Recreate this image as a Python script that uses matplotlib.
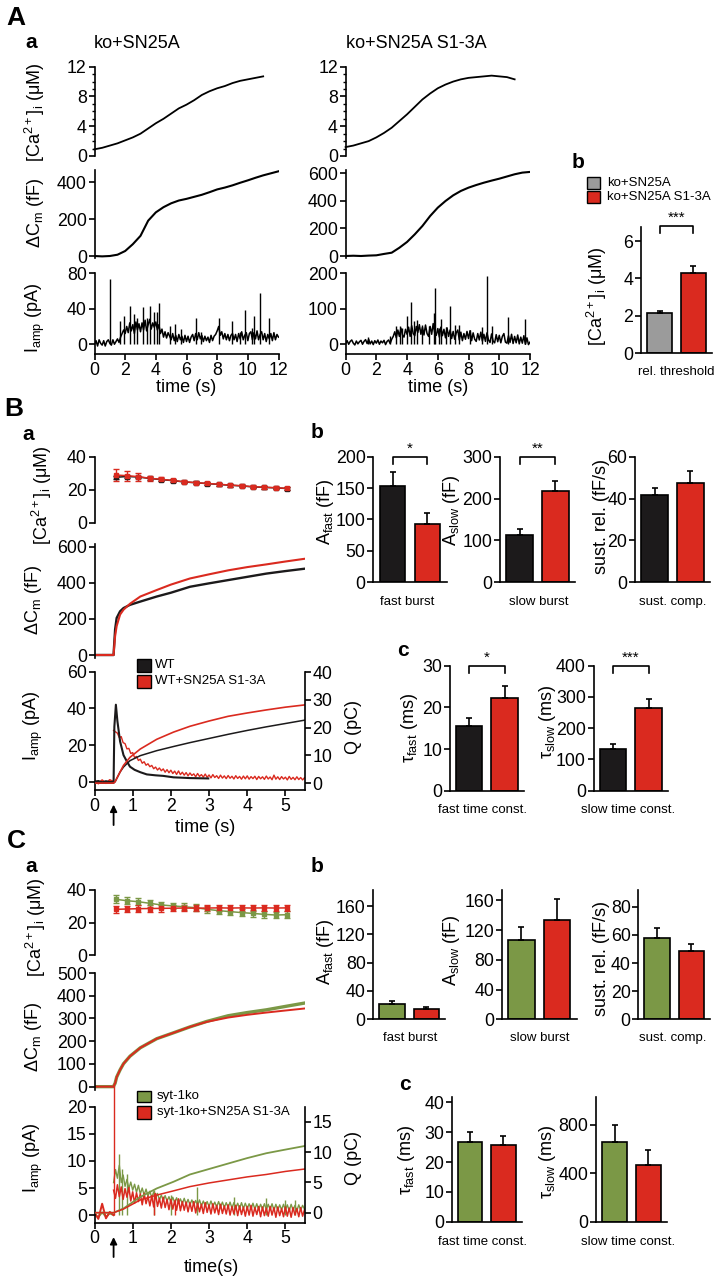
import matplotlib
matplotlib.use('Agg')
import matplotlib.pyplot as plt
import numpy as np
from matplotlib.patches import Rectangle

plt.rcParams['font.family'] = ['Liberation Sans', 'DejaVu Sans']
plt.rcParams['mathtext.fontset'] = 'custom'
plt.rcParams['mathtext.rm'] = 'Liberation Sans'
plt.rcParams['axes.linewidth'] = 1.2

# ---------------- data: panel A ----------------
tA_ca = np.arange(0, 11.01, 0.5)
caA_wt = [0.9, 1.1, 1.4, 1.7, 2.1, 2.5, 3.0, 3.7, 4.4, 5.0, 5.7, 6.4, 6.9, 7.5, 8.2,
          8.7, 9.1, 9.4, 9.8, 10.1, 10.3, 10.5, 10.7]
caA_mut = [1.2, 1.4, 1.7, 2.0, 2.5, 3.1, 3.8, 4.7, 5.6, 6.6, 7.6, 8.4, 9.1, 9.6, 10.0,
           10.3, 10.5, 10.6, 10.7, 10.8, 10.7, 10.6, 10.3]
tA_cm = np.arange(0, 12.01, 0.5)
cmA_wt = [0, -2, 0, 7, 27, 64, 109, 191, 236, 264, 285, 300, 309, 320, 331, 345, 360,
          370, 382, 396, 409, 423, 436, 447, 458]
cmA_mut = [0, 2, 0, 3, 5, 15, 24, 60, 102, 157, 218, 290, 351, 399, 440, 472, 496, 515,
           532, 547, 561, 577, 593, 605, 610]
tA_i = np.arange(0, 12.01, 0.1)
iA_wt = [0, 4, -2, 5, 1, -1, 4, -2, 3, 5,
         1, -1, 5, 0, 3, 6, 2, 8, 12, 16,
         12, 20, 13, 24, 15, 22, 12, 25, 16, 23,
         14, 24, 16, 27, 15, 22, 28, 17, 24, 19,
         25, 16, 22, 12, 17, 8, 14, 7, 13, 9,
         5, 12, 4, 10, 3, 11, 5, 9, 2, 10,
         3, 9, 2, 8, 11, 4, 12, 5, 13, 6,
         10, 3, 9, 4, 8, 2, 10, 4, 9, 11,
         15, 20, 10, 14, 6, 12, 5, 11, 4, 10,
         12, 5, 11, 3, 12, 6, 14, 5, 10, 13,
         4, 12, 14, 5, 13, 6, 15, 5, 11, 14,
         5, 12, 3, 11, 6, 12, 4, 13, 5, 11,
         8]
spkA_wt_t = [1.04, 1.64, 1.94, 2.29, 2.55, 2.76, 3.15, 3.41, 3.63, 3.88, 4.06, 4.23, 4.92,
             5.24, 5.67, 6.65, 6.97, 8.15, 8.97, 9.49, 9.84, 10.27, 10.4, 10.8, 11.4]
spkA_wt_a = [73, 26, 32, 43, 34, 30, 42, 30, 43, 36, 36, 46, 21, 23, 17, 30, 14, 29, 26,
             14, 39, 18, 32, 58, 29]
iA_mut = [2, 10, 0, 8, 12, 3, -2, 9, 1, 7,
          11, 0, 8, 13, 2, 14, 1, 9, -1, 10,
          3, 12, 0, 9, 4, 11, -1, 8, 12, 2,
          14, 22, 35, 18, 40, 22, 45, 26, 20, 42,
          28, 48, 22, 52, 30, 24, 50, 33, 55, 28,
          48, 26, 54, 30, 22, 50, 28, 58, 32, 25,
          44, 20, 48, 24, 42, 18, 46, 22, 40, 16,
          36, 14, 32, 40, 12, 34, 10, 30, 14, 36,
          16, 38, 10, 32, 14, 8, 30, 12, 34, 9,
          28, 8, 32, 12, 5, 29, 9, 4, 27, 7,
          25, 4, 22, 30, 6, 3, 24, 5, 28, 2,
          22, 4, 26, 1, 20, 3, 24, 0, 18, -1,
          6]
spkA_mut_t = [1.47, 2.92, 3.28, 3.52, 3.67, 3.99, 4.25, 4.47, 4.64, 4.97, 5.4, 5.73, 5.8,
              6.05, 6.2, 6.55, 6.8, 7.12, 7.4, 8.1, 8.86, 9.19, 9.55, 10.6, 11.7]
spkA_mut_a = [21, 24, 50, 52, 47, 79, 118, 65, 68, 55, 50, 89, 158, 45, 72, 48, 108, 53,
              55, 41, 48, 192, 50, 76, 70]
thrA = [2.15, 4.3]
thrA_err = [0.1, 0.35]

# ---------------- data: panel B ----------------
t_err = [0.55, 0.85, 1.15, 1.45, 1.75, 2.05, 2.35, 2.65, 2.95, 3.25, 3.55, 3.85, 4.15,
         4.45, 4.75, 5.05]
caB_wt = [27.5, 28.0, 27.7, 26.8, 26.1, 25.5, 24.7, 24.2, 23.7, 23.2, 22.7, 22.3, 21.7,
          21.4, 21.1, 20.7]
caB_wt_e = [1.0, 1.0, 0.9, 0.8, 0.8, 0.8, 0.8, 0.8, 0.8, 0.8, 0.8, 0.8, 0.8, 0.8, 0.8, 0.8]
caB_mut = [28.9, 28.5, 27.9, 26.9, 26.3, 25.6, 24.8, 24.3, 23.8, 23.3, 22.8, 22.4, 21.8,
           21.5, 21.2, 20.8]
caB_mut_e = [3.5, 3.0, 2.5, 1.5, 1.2, 1.0, 1.0, 1.0, 0.9, 0.9, 0.9, 0.9, 0.8, 0.8, 0.8, 0.8]
tB_cm = [0, 0.5, 0.51, 0.54, 0.58, 0.67, 0.76, 0.93, 1.2, 1.63, 2.0, 2.5, 3.0, 3.5, 4.0,
         4.5, 5.0, 5.5]
cmB_wt = [0, 0, 40, 142, 205, 242, 260, 278, 296, 324, 345, 378, 397, 415, 433, 451, 465, 478]
cmB_mut = [0, 0, 30, 105, 160, 224, 251, 284, 324, 360, 390, 424, 447, 469, 487, 502, 518, 533]
tB_iwt = [0, 0.1, 0.2, 0.3, 0.4, 0.5, 0.52, 0.56, 0.6, 0.67, 0.76, 0.85, 0.93, 1.05, 1.2,
          1.37, 1.6, 1.8, 2.07, 2.3, 2.5, 2.75, 2.98]
iB_wt = [0, 0.4, -0.3, 0.3, -0.2, 0, 30, 42, 33, 22, 14.5, 11, 8.2, 6.5, 5.2, 4, 3.5, 3.2,
         2.4, 2.2, 2, 1.9, 1.8]
t_pre = np.arange(0, 0.51, 0.1)
t_post = np.arange(0.5, 5.501, 0.05)
iB_mut_pre = [0.8, -1.0, 0.9, -0.8, 1.0, 0]
iB_mut_post = [28.0, 27.2, 26.5, 24.1, 24.6, 21.3, 20.8, 17.9, 18.2, 15.4,
               15.9, 13.2, 13.8, 11.6, 12.3, 10.1, 10.9, 9.0, 9.8, 8.2,
               8.9, 7.1, 8.0, 6.4, 7.5, 6.0, 7.0, 5.2, 6.6, 4.9,
               6.3, 4.5, 5.8, 4.0, 5.9, 3.9, 5.2, 3.6, 5.0, 3.2,
               4.8, 3.4, 4.3, 2.7, 4.5, 2.9, 3.9, 2.5, 4.2, 2.4,
               3.7, 2.1, 3.9, 2.3, 3.3, 1.8, 3.6, 2.0, 3.2, 1.7,
               3.4, 1.9, 3.0, 1.5, 3.3, 1.8, 2.9, 1.4, 3.1, 1.6,
               3.2, 1.4, 2.8, 1.7, 3.0, 1.2, 2.9, 1.6, 2.7, 1.3,
               3.1, 1.5, 2.6, 1.1, 3.6, 1.4, 2.7, 1.2, 2.8, 1.5,
               2.5, 1.0, 2.9, 1.3, 2.4, 1.1, 2.7, 1.2, 2.3, 1.0,
               2.2]
tB_q = [0, 0.5, 0.54, 0.67, 0.76, 0.93, 1.2, 1.63, 2.07, 2.5, 3.0, 3.5, 4.0, 4.5, 5.0, 5.5]
qB_wt = [0, 0, 0.5, 4, 5.8, 8.1, 9.9, 11.7, 13.2, 14.6, 16.1, 17.6, 19.0, 20.3, 21.5, 22.7]
qB_mut = [0, 0, 0.5, 4, 6.4, 9.3, 12.3, 15.8, 18.4, 20.5, 22.4, 24.1, 25.3, 26.4, 27.4, 28.2]
afastB = [153, 93];   afastB_err = [22, 17]
aslowB = [114, 218];  aslowB_err = [14, 25]
sustB = [41.8, 47.4]; sustB_err = [3.4, 5.9]
tfastB = [15.5, 22.3]; tfastB_err = [1.9, 2.8]
tslowB = [134, 266];  tslowB_err = [17, 28]

# ---------------- data: panel C ----------------
caC_ko = [34.3, 33.4, 32.8, 31.8, 30.8, 30.2, 29.7, 29.1, 28.1, 27.3, 26.7, 26.1, 25.6,
          25.0, 24.6, 24.8]
caC_ko_e = [2.5, 2.3, 2.2, 2.0, 2.0, 2.0, 2.0, 2.0, 2.0, 2.0, 2.0, 2.0, 2.0, 2.0, 2.0, 2.0]
caC_mut = [28.1, 28.3, 28.5, 28.6, 28.7, 28.8, 28.9, 28.8, 28.9, 29.0, 28.9, 29.0, 28.9,
           29.0, 28.9, 29.0]
caC_mut_e = [2.0] * 16
tC_cm = [0, 0.5, 0.51, 0.54, 0.58, 0.67, 0.76, 0.93, 1.2, 1.63, 2.07, 2.5, 2.94, 3.5, 4.0,
         4.5, 5.0, 5.51]
cmC_ko = [0, 0, 5, 15, 42, 74, 101, 134, 171, 211, 237, 263, 287, 312, 326, 338, 353, 368]
cmC_mut = [0, 0, 5, 15, 42, 74, 101, 134, 171, 211, 237, 263, 285, 304, 316, 326, 335, 344]
iC_ko_pre = [0.2, -0.4, 0.5, -0.3, 0.3, 0]
iC_ko_post = [6.0, 8.4, 6.8, 9.2, 6.0, 7.4, 5.3, 6.6, 4.9, 6.1,
              4.6, 5.7, 4.2, 5.5, 3.9, 5.0, 3.7, 4.8, 3.5, 4.4,
              3.2, 4.3, 3.1, 4.0, 2.8, 3.7, 2.7, 3.6, 2.6, 3.4,
              2.4, 3.3, 2.3, 3.2, 2.2, 3.0, 2.1, 3.1, 2.0, 2.9,
              1.9, 2.8, 1.9, 2.7, 1.8, 2.8, 1.7, 2.6, 1.7, 2.5,
              1.6, 2.6, 1.6, 2.4, 1.5, 2.5, 1.5, 2.4, 1.4, 2.3,
              1.4, 2.4, 1.3, 2.3, 1.3, 2.2, 1.2, 2.3, 1.2, 2.2,
              1.2, 2.1, 1.1, 2.2, 1.1, 2.1, 1.0, 2.0, 1.1, 2.1,
              1.0, 2.0, 1.0, 2.1, 0.9, 2.0, 0.9, 1.9, 1.0, 2.0,
              0.9, 1.9, 0.8, 2.0, 0.9, 1.8, 0.8, 1.9, 0.9, 1.8,
              1.1]
iC_mut_pre = [0.5, -0.7, 2.1, -0.6, 0.6, 0]
iC_mut_post = [4.6, 3.1, 5.6, 3.4, 5.2, 2.9, 4.9, 3.3, 5.1, 2.6,
               4.3, 2.2, 4.1, 2.5, 3.9, 1.9, 4.0, 2.1, 3.5, 1.7,
               3.6, 1.5, 4.0, 1.6, 3.1, 1.3, 3.3, 1.4, 2.9, 1.0,
               2.9, 1.1, 2.6, 0.9, 3.0, 0.8, 2.5, 0.9, 2.4, 0.6,
               2.3, 0.7, 2.5, 0.4, 2.2, 0.6, 2.0, 0.3, 2.3, 0.5,
               1.9, 0.2, 2.1, 0.4, 1.8, 0.1, 2.0, 0.3, 1.7, 0.2,
               1.9, 0.0, 1.6, 0.2, 1.8, -0.1, 1.7, 0.1, 1.5, -0.2,
               1.6, 0.0, 1.8, -0.2, 1.4, 0.1, 1.6, -0.3, 1.5, -0.1,
               1.3, -0.2, 1.6, 0.0, 1.4, -0.4, 1.5, -0.1, 1.2, -0.3,
               1.5, -0.2, 1.3, -0.4, 1.4, 0.0, 1.2, -0.3, 1.4, -0.2,
               1.0]
spkC_ko_t = [0.65, 0.72, 0.85, 1.55, 2.0, 2.68, 3.65, 4.48, 4.98, 5.25]
spkC_ko_a = [11.3, 8.5, 7.5, 4.6, 3.8, 5.2, 3.4, 3.1, 2.8, 2.8]
spkC_mut_t = [0.5, 1.55, 2.1]
spkC_mut_a = [23.8, 4.0, 2.9]
tC_q = [0, 0.5, 0.76, 1.2, 1.63, 2.07, 2.5, 3.0, 3.5, 4.0, 4.5, 5.0, 5.51]
qC_ko = [0, 0, 0.7, 2.6, 4.0, 5.1, 6.3, 7.2, 8.1, 9.0, 9.8, 10.4, 11.0]
qC_mut = [0, 0, 0.6, 2.1, 2.9, 3.6, 4.3, 4.9, 5.4, 5.9, 6.3, 6.8, 7.2]
afastC = [21.6, 14.1]; afastC_err = [4.8, 3.8]
aslowC = [107, 133];   aslowC_err = [17, 29]
sustC = [57.8, 48.4];  sustC_err = [7.5, 5.3]
tfastC = [26.7, 25.7]; tfastC_err = [3.5, 3.0]
tslowC = [656, 472];   tslowC_err = [141, 118]

BLACK = '#1c1a1b'
RED = '#da2a1f'
GREEN = '#7b9846'
GRAY = '#9b9b9b'

TICK = 12.8
LBL = 13
SMALL = 9.5

W, H = 716, 1280
fig = plt.figure(figsize=(W / 100, H / 100), dpi=100)


def ax_px(x0, y0, x1, y1):
    ax = fig.add_axes([x0 / W, 1 - y1 / H, (x1 - x0) / W, (y1 - y0) / H])
    ax.patch.set_alpha(0)
    for s in ['top', 'right']:
        ax.spines[s].set_visible(False)
    ax.tick_params(direction='out', length=4, width=1.2, labelsize=TICK, pad=1.5)
    return ax


def no_x(ax):
    ax.spines['bottom'].set_visible(False)
    ax.set_xticks([])


def ftext(x, y, s, **kw):
    kw.setdefault('ha', 'center')
    kw.setdefault('va', 'center')
    fig.text(x / W, 1 - y / H, s, **kw)


def fbox(x0, y0, x1, y1, color):
    fig.add_artist(Rectangle((x0 / W, 1 - y1 / H), (x1 - x0) / W, (y1 - y0) / H,
                             transform=fig.transFigure, facecolor=color,
                             edgecolor='k', lw=1))


def bars(ax, vals, errs, cols, top, ticks):
    ax.bar([0, 1], vals, width=0.74, color=cols, edgecolor='k', linewidth=1.2, zorder=2)
    ax.errorbar([0, 1], vals, yerr=[[0, 0], errs], fmt='none', ecolor='k',
                elinewidth=1.2, capsize=2.5, capthick=1.2, zorder=3)
    ax.set_xlim(-0.55, 1.55)
    ax.set_ylim(0, top)
    ax.set_yticks(ticks)
    ax.set_xticks([])


def bracket(ax, stars, top, drop=0.06):
    ax.plot([0, 0, 1, 1], [top * (1 - drop), top, top, top * (1 - drop)], color='k',
            lw=1.2, clip_on=False)
    ax.text(0.5, top * 1.005, stars, ha='center', va='bottom', fontsize=11)


CA_LBL = r'[Ca$\mathregular{^{2+}}$]$\mathregular{_i}$ (μM)'
CM_LBL = r'ΔC$\mathregular{_m}$ (fF)'
I_LBL = r'I$\mathregular{_{amp}}$ (pA)'

# ================= Panel A =================
ftext(16, 18, 'A', fontsize=19, fontweight='bold')
ftext(31, 43, 'a', fontsize=15, fontweight='bold')
ftext(94, 43, 'ko+SN25A', fontsize=13, ha='left')
ftext(346, 43, 'ko+SN25A S1-3A', fontsize=13, ha='left')

for x0, x1, ca, cm, cmlim, cmticks, ia, st, sa, ilim, iticks in [
        (94.5, 278.5, caA_wt, cmA_wt, (-10.8, 465), [0, 200, 400], iA_wt, spkA_wt_t,
         spkA_wt_a, (-11.3, 80), [0, 40, 80]),
        (345.6, 530, caA_mut, cmA_mut, (-14.5, 624), [0, 200, 400, 600], iA_mut,
         spkA_mut_t, spkA_mut_a, (-28.2, 200), [0, 100, 200])]:
    a1 = ax_px(x0, 66.7, x1, 156)
    a1.plot(tA_ca, ca, color='k', lw=1.3, clip_on=False)
    a1.set_xlim(0, 12)
    a1.set_ylim(0, 12)
    a1.set_yticks([0, 4, 8, 12])
    a1.set_yticks(np.arange(0, 13, 1), minor=True)
    a1.tick_params(which='minor', direction='out', length=2.5, width=1)
    no_x(a1)
    a2 = ax_px(x0, 170, x1, 258)
    a2.plot(tA_cm, cm, color='k', lw=1.5)
    a2.set_xlim(0, 12)
    a2.set_ylim(*cmlim)
    a2.set_yticks(cmticks)
    no_x(a2)
    a3 = ax_px(x0, 273, x1, 354.3)
    a3.plot(tA_i, ia, color='k', lw=1.1)
    a3.vlines(st, 0, sa, color='k', lw=1.0)
    a3.set_xlim(0, 12)
    a3.set_ylim(*ilim)
    a3.set_yticks(iticks)
    a3.set_xticks(np.arange(0, 13, 2))
    ftext((x0 + x1) / 2, 388, 'time (s)', fontsize=13)

ftext(35, 112, CA_LBL, fontsize=LBL, rotation=90)
ftext(35, 213, CM_LBL, fontsize=LBL, rotation=90)
ftext(35, 318, I_LBL, fontsize=LBL, rotation=90)

ftext(578, 162, 'b', fontsize=15, fontweight='bold')
fbox(587, 177, 600, 188.5, GRAY)
fbox(587, 190.5, 600, 203, RED)
ftext(607, 182.5, 'ko+SN25A', fontsize=SMALL, ha='left')
ftext(607, 196.7, 'ko+SN25A S1-3A', fontsize=SMALL, ha='left')
axAb = ax_px(641, 227, 712, 353)
bars(axAb, thrA, thrA_err, [GRAY, RED], 6.75, [0, 2, 4, 6])
axAb.plot([0, 0, 1, 1], [6.42, 6.8, 6.8, 6.42], color='k', lw=1.2, clip_on=False)
axAb.text(0.5, 6.85, '***', ha='center', va='bottom', fontsize=11)
ftext(597, 296, CA_LBL, fontsize=LBL, rotation=90)
ftext(676, 372, 'rel. threshold', fontsize=SMALL)

# ================= Panel B =================
ftext(14, 409, 'B', fontsize=19, fontweight='bold')
ftext(28, 435, 'a', fontsize=15, fontweight='bold')


def trace_panels(y_ca, y_cm, y_i, cmlim, cmticks, ilim, iticks, qlim, qticks):
    a1 = ax_px(94.5, y_ca[0], 304.5, y_ca[1])
    a1.set_xlim(0, 5.5)
    a1.set_ylim(0, 40)
    a1.set_yticks([0, 20, 40])
    no_x(a1)
    a2 = ax_px(94.5, y_cm[0], 304.5, y_cm[1])
    a2.set_xlim(0, 5.5)
    a2.set_ylim(*cmlim)
    a2.set_yticks(cmticks)
    no_x(a2)
    a3 = ax_px(94.5, y_i[0], 304.5, y_i[1])
    a3.set_xlim(0, 5.5)
    a3.set_ylim(*ilim)
    a3.set_yticks(iticks)
    a3.set_xticks([0, 1, 2, 3, 4, 5])
    a4 = a3.twinx()
    a4.set_ylim(*qlim)
    a4.set_yticks(qticks)
    for s in ['top', 'left', 'bottom']:
        a4.spines[s].set_visible(False)
    a4.tick_params(direction='out', length=4, width=1.2, labelsize=TICK, pad=1.5)
    a3.annotate('', xy=(0.5, -0.10), xytext=(0.5, -0.32),
                xycoords=a3.get_xaxis_transform(),
                arrowprops=dict(arrowstyle='-|>', color='k', lw=1.3, mutation_scale=10),
                annotation_clip=False)
    return a1, a2, a3, a4


b1, b2, b3, b4 = trace_panels((456.7, 522.7), (544, 658), (671.7, 790),
                              (-16.6, 615), [0, 200, 400, 600], (-4.5, 60),
                              [0, 20, 40, 60], (-2.5, 40.2), [0, 10, 20, 30, 40])
err_kw = dict(fmt='-s', markersize=3.4, capsize=2.4, lw=1.1, elinewidth=1.0, capthick=1.0)
b1.errorbar(t_err, caB_wt, yerr=caB_wt_e, color=BLACK, **err_kw)
b1.errorbar(t_err, caB_mut, yerr=caB_mut_e, color=RED, **err_kw)
b2.plot(tB_cm, cmB_wt, color=BLACK, lw=1.7)
b2.plot(tB_cm, cmB_mut, color=RED, lw=1.5)
b3.plot(t_pre, iB_mut_pre, color=RED, lw=1.3)
b3.plot(tB_iwt, iB_wt, color=BLACK, lw=1.5, zorder=3)
b3.plot(t_post, iB_mut_post, color=RED, lw=1.0, zorder=2)
b4.plot(tB_q, qB_wt, color=BLACK, lw=1.1)
b4.plot(tB_q, qB_mut, color=RED, lw=1.2)
fbox(137, 659, 150.5, 672, BLACK)
fbox(137, 675, 150.5, 688, RED)
ftext(155, 665.5, 'WT', fontsize=SMALL, ha='left')
ftext(155, 681.5, 'WT+SN25A S1-3A', fontsize=SMALL, ha='left')
ftext(205, 828, 'time (s)', fontsize=13)
ftext(42, 495, CA_LBL, fontsize=LBL, rotation=90)
ftext(33, 600, CM_LBL, fontsize=LBL, rotation=90)
ftext(33, 726, I_LBL, fontsize=LBL, rotation=90)
ftext(353, 727, 'Q (pC)', fontsize=LBL, rotation=90)

ftext(317, 433, 'b', fontsize=15, fontweight='bold')
ax = ax_px(373.3, 456.7, 446.7, 582.3)
bars(ax, afastB, afastB_err, [BLACK, RED], 200, [0, 50, 100, 150, 200])
bracket(ax, '*', 200)
ax = ax_px(500, 456.7, 575, 582.3)
bars(ax, aslowB, aslowB_err, [BLACK, RED], 300, [0, 100, 200, 300])
bracket(ax, '**', 300)
ax = ax_px(635, 456.7, 710, 582.3)
bars(ax, sustB, sustB_err, [BLACK, RED], 60, [0, 20, 40, 60])
ftext(325, 512, r'A$\mathregular{_{fast}}$ (fF)', fontsize=LBL, rotation=90)
ftext(452, 510, r'A$\mathregular{_{slow}}$ (fF)', fontsize=LBL, rotation=90)
ftext(601, 517, 'sust. rel. (fF/s)', fontsize=LBL, rotation=90)
ftext(407, 602, 'fast burst', fontsize=SMALL)
ftext(539, 602, 'slow burst', fontsize=SMALL)
ftext(673, 602, 'sust. comp.', fontsize=SMALL)

ftext(403, 650, 'c', fontsize=15, fontweight='bold')
ax = ax_px(449.8, 665.7, 524, 790.7)
bars(ax, tfastB, tfastB_err, [BLACK, RED], 30, [0, 10, 20, 30])
bracket(ax, '*', 30)
ax = ax_px(593.6, 665.7, 668, 790.7)
bars(ax, tslowB, tslowB_err, [BLACK, RED], 400, [0, 100, 200, 300, 400])
bracket(ax, '***', 400)
ftext(410, 728, r'τ$\mathregular{_{fast}}$ (ms)', fontsize=LBL, rotation=90)
ftext(547, 722, r'τ$\mathregular{_{slow}}$ (ms)', fontsize=LBL, rotation=90)
ftext(482, 810, 'fast time const.', fontsize=SMALL)
ftext(628, 810, 'slow time const.', fontsize=SMALL)

# ================= Panel C =================
ftext(16, 841, 'C', fontsize=19, fontweight='bold')
ftext(31, 867, 'a', fontsize=15, fontweight='bold')
c1, c2, c3, c4 = trace_panels((890, 955), (973, 1090), (1106.7, 1222.7),
                              (-14.7, 500), [0, 100, 200, 300, 400, 500], (-1.4, 20),
                              [0, 5, 10, 15, 20], (-1.65, 17.47), [0, 5, 10, 15])
c1.errorbar(t_err, caC_ko, yerr=caC_ko_e, color=GREEN, **err_kw)
c1.errorbar(t_err, caC_mut, yerr=caC_mut_e, color=RED, **err_kw)
c2.plot(tC_cm, cmC_ko, color=GREEN, lw=2.4)
c2.plot(tC_cm, cmC_mut, color=RED, lw=1.4)
c3.plot(t_pre, iC_ko_pre, color=GREEN, lw=1.3)
c3.plot(t_post, iC_ko_post, color=GREEN, lw=1.0)
c3.vlines(spkC_ko_t, 0, spkC_ko_a, color=GREEN, lw=1.0)
c3.plot(t_pre, iC_mut_pre, color=RED, lw=1.4)
c3.plot(t_post, iC_mut_post, color=RED, lw=1.1)
c3.vlines(spkC_mut_t, 0, spkC_mut_a, color=RED, lw=1.0, clip_on=False)
c4.plot(tC_q, qC_ko, color=GREEN, lw=1.3)
c4.plot(tC_q, qC_mut, color=RED, lw=1.1)
fbox(137, 1091, 150.5, 1102, GREEN)
fbox(137, 1106, 150.5, 1118.5, RED)
ftext(157, 1096.5, 'syt-1ko', fontsize=SMALL, ha='left')
ftext(157, 1112, 'syt-1ko+SN25A S1-3A', fontsize=SMALL, ha='left')
ftext(211, 1268, 'time(s)', fontsize=13)
ftext(36, 927, CA_LBL, fontsize=LBL, rotation=90)
ftext(33, 1037, CM_LBL, fontsize=LBL, rotation=90)
ftext(33, 1158, I_LBL, fontsize=LBL, rotation=90)
ftext(353, 1158, 'Q (pC)', fontsize=LBL, rotation=90)

ftext(317, 867, 'b', fontsize=15, fontweight='bold')
ax = ax_px(373.3, 890, 445, 1019.3)
bars(ax, afastC, afastC_err, [GREEN, RED], 182.6, [0, 40, 80, 120, 160])
ax = ax_px(501.7, 890, 576.7, 1019.3)
bars(ax, aslowC, aslowC_err, [GREEN, RED], 174, [0, 40, 80, 120, 160])
ax = ax_px(638.3, 890, 710, 1019.3)
bars(ax, sustC, sustC_err, [GREEN, RED], 92, [0, 20, 40, 60, 80])
ftext(325, 952, r'A$\mathregular{_{fast}}$ (fF)', fontsize=LBL, rotation=90)
ftext(452, 950, r'A$\mathregular{_{slow}}$ (fF)', fontsize=LBL, rotation=90)
ftext(601, 958, 'sust. rel. (fF/s)', fontsize=LBL, rotation=90)
ftext(410, 1038, 'fast burst', fontsize=SMALL)
ftext(540, 1038, 'slow burst', fontsize=SMALL)
ftext(673, 1038, 'sust. comp.', fontsize=SMALL)

ftext(405, 1085, 'c', fontsize=15, fontweight='bold')
ax = ax_px(451.7, 1096.7, 521.7, 1221.7)
bars(ax, tfastC, tfastC_err, [GREEN, RED], 41.9, [0, 10, 20, 30, 40])
ax = ax_px(596, 1096.7, 666.7, 1221.7)
bars(ax, tslowC, tslowC_err, [GREEN, RED], 1034, [0, 400, 800])
ftext(406, 1160, r'τ$\mathregular{_{fast}}$ (ms)', fontsize=LBL, rotation=90)
ftext(547, 1162, r'τ$\mathregular{_{slow}}$ (ms)', fontsize=LBL, rotation=90)
ftext(483, 1242, 'fast time const.', fontsize=SMALL)
ftext(628, 1242, 'slow time const.', fontsize=SMALL)

fig.savefig('out.png', dpi=100)
